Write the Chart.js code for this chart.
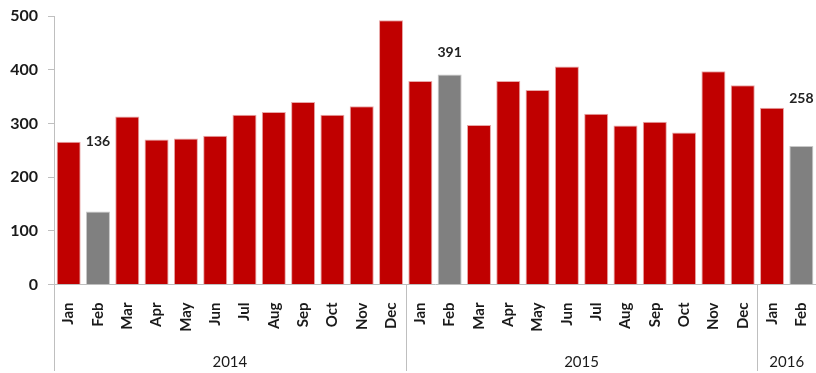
<!DOCTYPE html>
<html>
<head>
<meta charset="utf-8">
<script src="https://cdn.jsdelivr.net/npm/chart.js@4.4.1/dist/chart.umd.min.js"></script>
<style>
  html, body { margin: 0; padding: 0; background: #fff; }
  #wrap { width: 816px; height: 373px; position: relative; }
</style>
</head>
<body>
<div id="wrap"><canvas id="barChart"></canvas></div>
<script>
  // Monthly totals, Jan 2014 - Feb 2016
  const months = ['Jan', 'Feb', 'Mar', 'Apr', 'May', 'Jun', 'Jul', 'Aug', 'Sep', 'Oct', 'Nov', 'Dec',
                  'Jan', 'Feb', 'Mar', 'Apr', 'May', 'Jun', 'Jul', 'Aug', 'Sep', 'Oct', 'Nov', 'Dec',
                  'Jan', 'Feb'];
  const values = [266, 136, 313, 270, 272, 277, 316, 321, 340, 316, 332, 492,
                  379, 391, 297, 379, 362, 406, 318, 296, 303, 283, 397, 371,
                  329, 258];
  const years = ['2014', '2015', '2016'];
  const yearCounts = [12, 12, 2];
  const febBars = [1, 13, 25]; // bars shown in grey with their value
  const yTicks = [0, 100, 200, 300, 400, 500];

  const RED = '#c00000';
  const GREY = '#808080';
  const AXIS = '#bfbfbf';
  const FONT = 'Lato, "Open Sans", sans-serif';

  // how far above each grey bar its value sits (px)
  const labelLift = { 1: 70, 13: 22, 25: 47 };

  const groupPlugin = {
    id: 'groups',
    afterDraw(chart) {
      const ctx = chart.ctx;
      const x = chart.scales.x;
      const area = chart.chartArea;
      const h = chart.height;
      ctx.save();
      ctx.strokeStyle = AXIS;
      ctx.lineWidth = 1;
      // left axis continues down through the label rows
      ctx.beginPath();
      ctx.moveTo(Math.round(area.left) + 0.5, area.bottom);
      ctx.lineTo(Math.round(area.left) + 0.5, h - 2);
      ctx.stroke();

      let start = 0;
      ctx.font = '15px ' + FONT;
      ctx.fillStyle = '#1a1a1a';
      ctx.textAlign = 'center';
      ctx.textBaseline = 'middle';
      years.forEach((yr, i) => {
        const end = start + yearCounts[i];
        const left = i === 0 ? area.left : (x.getPixelForValue(start - 1) + x.getPixelForValue(start)) / 2;
        const right = end >= months.length ? area.right : (x.getPixelForValue(end - 1) + x.getPixelForValue(end)) / 2;
        if (end < months.length) {
          ctx.beginPath();
          ctx.moveTo(Math.round(right) + 0.5, area.bottom);
          ctx.lineTo(Math.round(right) + 0.5, h - 2);
          ctx.stroke();
        }
        ctx.fillText(yr, (left + right) / 2, 362);
        start = end;
      });

      // value labels over the grey bars
      const meta = chart.getDatasetMeta(0);
      ctx.font = 'bold 14px ' + FONT;
      ctx.fillStyle = '#222';
      febBars.forEach(i => {
        const bar = meta.data[i];
        ctx.fillText(values[i], bar.x, bar.y - labelLift[i]);
      });
      ctx.restore();
    }
  };

  const ctxBar = document.getElementById('barChart').getContext('2d');

  const barChart = new Chart(ctxBar, {
    type: 'bar',
    data: {
      labels: months,
      datasets: [{
        data: values,
        backgroundColor: values.map((v, i) => febBars.includes(i) ? GREY : RED),
        borderColor: values.map((v, i) => febBars.includes(i) ? '#c8c8c8' : '#e8a8a8'),
        borderWidth: 1,
        borderSkipped: 'bottom',
        barPercentage: 0.82,
        categoryPercentage: 1
      }]
    },
    options: {
      responsive: true,
      maintainAspectRatio: false,
      animation: false,
      layout: { padding: { top: 16, right: 0, left: 0, bottom: 0 } },
      plugins: {
        legend: { display: false },
        tooltip: { enabled: false }
      },
      scales: {
        x: {
          grid: { display: false },
          border: { display: true, color: AXIS },
          ticks: {
            minRotation: 90,
            maxRotation: 90,
            padding: 10,
            color: '#1a1a1a',
            font: { family: FONT, size: 15, weight: 'bold' }
          },
          afterFit(scale) {
            scale.height = 88.5;
            scale.paddingLeft = 0;
            scale.paddingRight = 0;
          }
        },
        y: {
          min: 0,
          max: 500,
          afterBuildTicks(scale) { scale.ticks = yTicks.map(v => ({ value: v })); },
          grid: { drawOnChartArea: false, drawTicks: true, tickLength: 6, color: AXIS },
          border: { display: true, color: AXIS },
          ticks: {
            padding: 10,
            color: '#1a1a1a',
            font: { family: FONT, size: 16, weight: 'bold' }
          },
          afterFit(scale) {
            scale.width = 54;
            scale.paddingTop = 0;
            scale.paddingBottom = 0;
          }
        }
      }
    },
    plugins: [groupPlugin]
  });
</script>
</body>
</html>
